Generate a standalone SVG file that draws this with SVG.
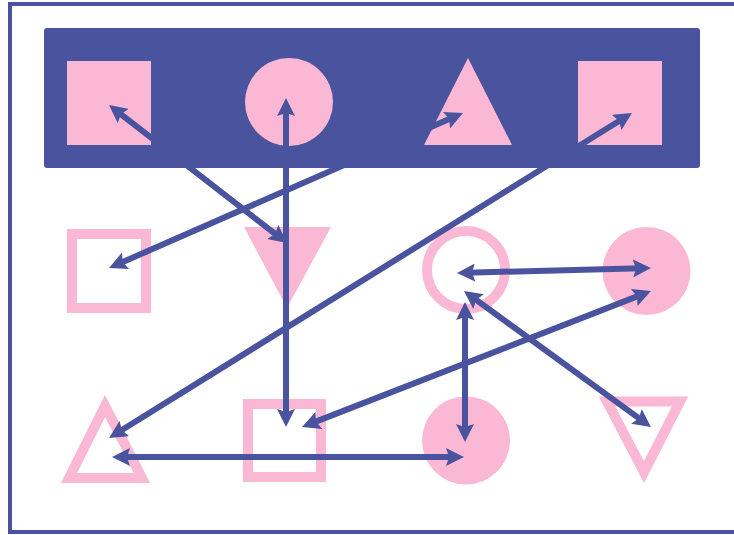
<svg xmlns="http://www.w3.org/2000/svg" width="734" height="535" viewBox="0 0 734 535">
<style>
.frame{fill:none;stroke:#4a549e;stroke-width:4}
.panel{fill:#4a549e}
.fill{fill:#fbb8d4}
.ring{fill:none;stroke:#fbb8d4;stroke-width:10;stroke-linejoin:miter;stroke-miterlimit:10}
.edge{fill:none;stroke:#4a549e;stroke-width:6;marker-start:url(#ah);marker-end:url(#ah)}
</style>
<defs>
<marker id="ah" markerUnits="userSpaceOnUse" viewBox="0 0 18 18" markerWidth="18" markerHeight="18" refX="8" refY="9" orient="auto-start-reverse">
<path d="M0,0 L18,9 L0,18 L3,9 z" fill="#4a549e"/>
</marker>
</defs>
<rect class="frame" x="10" y="4" width="730" height="528"/>
<g id="panel"><rect class="panel" x="44" y="28" width="656" height="140" rx="3"/></g>
<g id="n1"><rect class="fill" x="67" y="61" width="84" height="84"/></g>
<g id="n2"><circle class="fill" cx="289" cy="102" r="44"/></g>
<g id="n3"><polygon class="fill" points="468,58 424,145 512,145"/></g>
<g id="n4"><rect class="fill" x="578" y="61" width="84" height="84"/></g>
<g id="n5"><rect class="ring" x="72" y="234" width="74" height="74"/></g>
<g id="n6"><polygon class="fill" points="244,227 331,227 287,308"/></g>
<g id="n7"><circle class="ring" cx="466" cy="270" r="39"/></g>
<g id="n8"><circle class="fill" cx="646.5" cy="271" r="44"/></g>
<g id="n9"><polygon class="ring" points="105,406 69,478 142,478"/></g>
<g id="n10"><rect class="ring" x="248" y="404" width="73" height="73"/></g>
<g id="n11"><circle class="fill" cx="466" cy="440.5" r="44"/></g>
<g id="n12"><polygon class="ring" points="607,401.5 680,401.5 644,472"/></g>
<g id="edges">
<line class="edge" x1="116.9" y1="111.1" x2="279.1" y2="236.9"/>
<line class="edge" x1="286" y1="108" x2="286" y2="417"/>
<line class="edge" x1="453.8" y1="117" x2="118.2" y2="264"/>
<line class="edge" x1="623.5" y1="118.3" x2="117.5" y2="432.7"/>
<line class="edge" x1="467" y1="272.7" x2="641" y2="268.3"/>
<line class="edge" x1="472.1" y1="296.9" x2="642.9" y2="421.1"/>
<line class="edge" x1="465" y1="312" x2="465" y2="432"/>
<line class="edge" x1="311.3" y1="423.4" x2="641.7" y2="294.6"/>
<line class="edge" x1="122" y1="457" x2="454" y2="457"/>
</g>
</svg>
